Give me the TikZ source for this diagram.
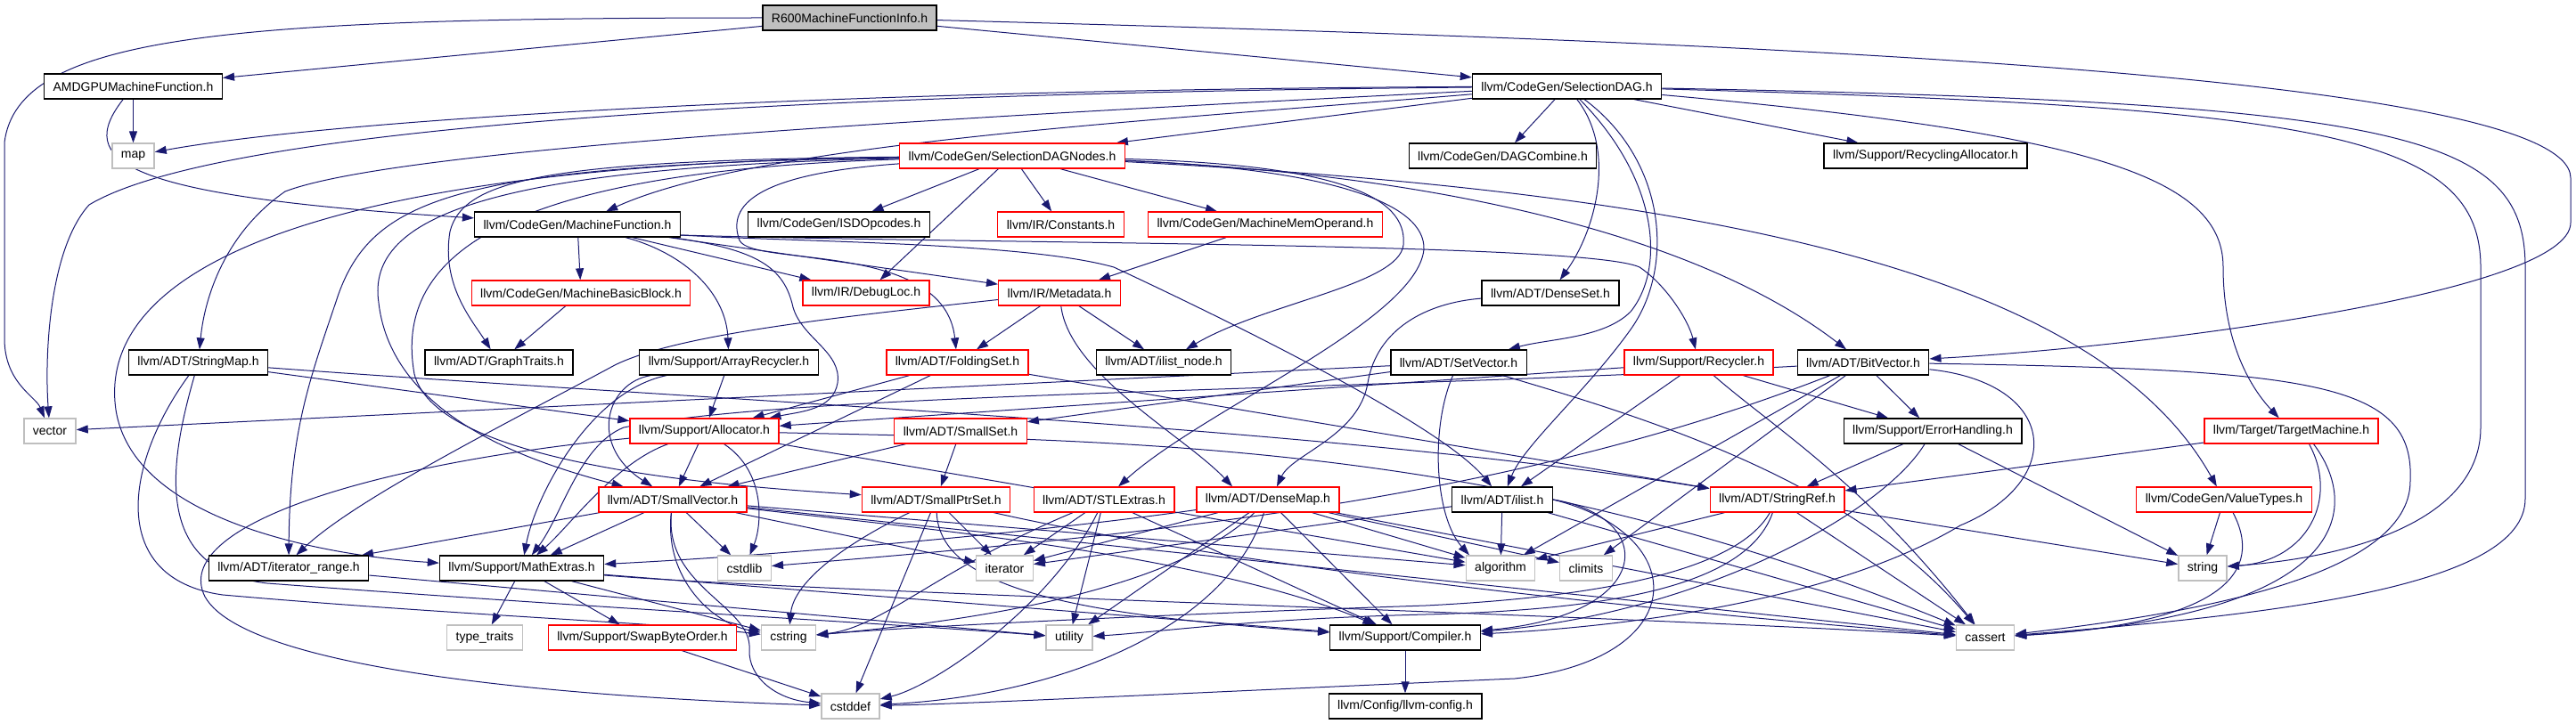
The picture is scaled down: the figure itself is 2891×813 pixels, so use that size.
\documentclass[tikz,border=0pt]{standalone}
\usepackage{fontspec}
\setmainfont{Liberation Sans}
\usetikzlibrary{arrows.meta, calc}
\definecolor{edgeblue}{HTML}{191970}
\definecolor{sysgray}{HTML}{BFBFBF}
\pgfdeclarelayer{edges}
\pgfsetlayers{edges,main}
\tikzset{
    hdr/.style={rectangle, draw=black, fill=white, line width=1.3pt, minimum height=28pt, inner xsep=10pt, inner ysep=0pt, font=\fontsize{14}{16}\selectfont},
    hdr_red/.style={hdr, draw=red},
    hdr_sys/.style={hdr, draw=sysgray},
    hdr_this/.style={hdr, fill=sysgray},
    dep/.style={-{Triangle[length=13pt, width=9pt]}, draw=edgeblue, line width=1pt}
}

\begin{document}
\begin{tikzpicture}[x=1pt, y=1pt]
\useasboundingbox (0,0) rectangle (2891,-813);

% Headers
\node (r600) [hdr_this] at (953.5,-20) {R600MachineFunctionInfo.h};
\node (amdgpu) [hdr] at (149.5,-97) {AMDGPUMachineFunction.h};
\node (seldag) [hdr] at (1758.5,-97) {llvm/CodeGen/SelectionDAG.h};
\node (map) [hdr_sys] at (149.5,-175) {map};
\node (sdnodes) [hdr_red] at (1136,-175) {llvm/CodeGen/SelectionDAGNodes.h};
\node (dagcomb) [hdr] at (1686.5,-175) {llvm/CodeGen/DAGCombine.h};
\node (recalloc) [hdr] at (2161,-175) {llvm/Support/RecyclingAllocator.h};
\node (mfunc) [hdr] at (648,-252) {llvm/CodeGen/MachineFunction.h};
\node (isdop) [hdr] at (941.5,-252) {llvm/CodeGen/ISDOpcodes.h};
\node (consts) [hdr_red] at (1190.5,-252) {llvm/IR/Constants.h};
\node (mmo) [hdr_red] at (1420,-252) {llvm/CodeGen/MachineMemOperand.h};
\node (mbb) [hdr_red] at (652,-329) {llvm/CodeGen/MachineBasicBlock.h};
\node (dloc) [hdr_red] at (972,-329) {llvm/IR/DebugLoc.h};
\node (meta) [hdr_red] at (1189,-329) {llvm/IR/Metadata.h};
\node (dset) [hdr] at (1740,-329) {llvm/ADT/DenseSet.h};
\node (smap) [hdr] at (222.5,-407) {llvm/ADT/StringMap.h};
\node (gtraits) [hdr] at (560,-407) {llvm/ADT/GraphTraits.h};
\node (arecyc) [hdr] at (818,-407) {llvm/Support/ArrayRecycler.h};
\node (fset) [hdr_red] at (1074.5,-407) {llvm/ADT/FoldingSet.h};
\node (inode) [hdr] at (1306,-407) {llvm/ADT/ilist\_node.h};
\node (setvec) [hdr] at (1637,-407) {llvm/ADT/SetVector.h};
\node (recyc) [hdr_red] at (1906.5,-407) {llvm/Support/Recycler.h};
\node (bitvec) [hdr] at (2091,-407) {llvm/ADT/BitVector.h};
\node (vector) [hdr_sys] at (56,-484) {vector};
\node (alloc) [hdr_red] at (790.5,-484) {llvm/Support/Allocator.h};
\node (sset) [hdr_red] at (1078,-484) {llvm/ADT/SmallSet.h};
\node (errh) [hdr] at (2169,-484) {llvm/Support/ErrorHandling.h};
\node (tmach) [hdr_red] at (2571.5,-484) {llvm/Target/TargetMachine.h};
\node (svec) [hdr_red] at (755,-561) {llvm/ADT/SmallVector.h};
\node (sptrset) [hdr_red] at (1050.5,-561) {llvm/ADT/SmallPtrSet.h};
\node (stlext) [hdr_red] at (1239,-561) {llvm/ADT/STLExtras.h};
\node (dmap) [hdr_red] at (1423,-561) {llvm/ADT/DenseMap.h};
\node (ilist) [hdr] at (1686,-561) {llvm/ADT/ilist.h};
\node (sref) [hdr_red] at (1994.5,-561) {llvm/ADT/StringRef.h};
\node (vtypes) [hdr_red] at (2496,-561) {llvm/CodeGen/ValueTypes.h};
\node (itrange) [hdr] at (324,-638) {llvm/ADT/iterator\_range.h};
\node (mathx) [hdr] at (585.5,-638) {llvm/Support/MathExtras.h};
\node (cstdlib) [hdr_sys] at (835.5,-638) {cstdlib};
\node (iterator) [hdr_sys] at (1127.5,-638) {iterator};
\node (algorithm) [hdr_sys] at (1684,-638) {algorithm};
\node (climits) [hdr_sys] at (1780,-638) {climits};
\node (string) [hdr_sys] at (2472,-638) {string};
\node (typetr) [hdr_sys] at (544,-716) {type\_traits};
\node (swapbo) [hdr_red] at (721,-716) {llvm/Support/SwapByteOrder.h};
\node (cstring) [hdr_sys] at (885,-716) {cstring};
\node (utility) [hdr_sys] at (1200,-716) {utility};
\node (compiler) [hdr] at (1577,-716) {llvm/Support/Compiler.h};
\node (cassert) [hdr_sys] at (2228,-716) {cassert};
\node (cstddef) [hdr_sys] at (954.5,-793) {cstddef};
\node (llvmcfg) [hdr] at (1577,-793) {llvm/Config/llvm-config.h};

\begin{pgfonlayer}{edges}
% R600MachineFunctionInfo.h
\draw [dep] (r600) -- (amdgpu);
\draw [dep] (r600) .. controls (250,-20) and (20,-40) .. (5,-160) -- (5,-380) .. controls (5,-430) and (40,-445) .. (vector);
\draw [dep] (r600) -- (seldag);
\draw [dep] (r600) .. controls (1900,-45) and (2885,-80) .. (2885,-200) -- (2885,-250) .. controls (2885,-330) and (2400,-390) .. (bitvec);

% AMDGPUMachineFunction.h
\draw [dep] (amdgpu) -- (map);
\draw [dep] (amdgpu) .. controls (85,-180) and (130,-220) .. (mfunc);

% SelectionDAG.h
\draw [dep] (seldag) .. controls (1000,-100) and (400,-130) .. (map);
\draw [dep] (seldag) .. controls (900,-105) and (250,-140) .. (100,-230) .. controls (55,-280) and (50,-400) .. (vector);
\draw [dep] (seldag) .. controls (1100,-130) and (450,-165) .. (320,-215) .. controls (255,-260) and (230,-330) .. (smap);
\draw [dep] (seldag) .. controls (1300,-135) and (850,-160) .. (mfunc);
\draw [dep] (seldag) -- (sdnodes);
\draw [dep] (seldag) -- (dagcomb);
\draw [dep] (seldag) -- (recalloc);
\draw [dep] (seldag) .. controls (1815,-170) and (1790,-260) .. (dset);
\draw [dep] (seldag) .. controls (1860,-200) and (1870,-300) .. (1830,-350) .. controls (1800,-380) and (1740,-380) .. (setvec);
\draw [dep] (seldag) .. controls (1870,-180) and (1880,-300) .. (1830,-370) .. controls (1780,-440) and (1710,-500) .. (ilist);
\draw [dep] (seldag) .. controls (2350,-150) and (2495,-200) .. (2495,-300) .. controls (2495,-390) and (2530,-440) .. (tmach);
\draw [dep] (seldag) .. controls (2600,-120) and (2784,-150) .. (2784,-300) -- (2784,-480) .. controls (2784,-580) and (2650,-625) .. (string);
\draw [dep] (seldag) .. controls (2700,-115) and (2834,-150) .. (2834,-300) -- (2834,-560) .. controls (2834,-660) and (2550,-690) .. (cassert);

% SelectionDAGNodes.h
\draw [dep] (sdnodes) -- (isdop);
\draw [dep] (sdnodes) -- (consts);
\draw [dep] (sdnodes) -- (mmo);
\draw [dep] (sdnodes) -- (dloc);
\draw [dep] (sdnodes) .. controls (850,-195) and (815,-230) .. (830,-270) .. controls (845,-300) and (1060,-270) .. (fset);
\draw [dep] (sdnodes) .. controls (1500,-185) and (1580,-220) .. (1575,-275) .. controls (1570,-320) and (1420,-340) .. (inode);
\draw [dep] (sdnodes) .. controls (1500,-190) and (1600,-230) .. (1598,-280) .. controls (1590,-360) and (1350,-460) .. (stlext);
\draw [dep] (sdnodes) .. controls (1600,-195) and (1900,-260) .. (bitvec);
\draw [dep] (sdnodes) .. controls (1900,-215) and (2350,-300) .. (vtypes);
\draw [dep] (sdnodes) .. controls (620,-180) and (520,-200) .. (505,-260) .. controls (495,-320) and (530,-360) .. (gtraits);
\draw [dep] (sdnodes) .. controls (520,-185) and (420,-220) .. (380,-330) .. controls (350,-420) and (325,-480) .. (itrange);
\draw [dep] (sdnodes) .. controls (560,-188) and (410,-240) .. (425,-340) .. controls (440,-470) and (600,-520) .. (svec);
\draw [dep] (sdnodes) .. controls (580,-192) and (440,-280) .. (465,-420) .. controls (490,-520) and (800,-545) .. (sptrset);
\draw [dep] (sdnodes) .. controls (300,-185) and (110,-320) .. (130,-460) .. controls (150,-590) and (380,-625) .. (mathx);

% MachineFunction.h
\draw [dep] (mfunc) -- (mbb);
\draw [dep] (mfunc) .. controls (770,-285) and (815,-330) .. (arecyc);
\draw [dep] (mfunc) .. controls (850,-280) and (880,-300) .. (890,-345) .. controls (900,-380) and (945,-395) .. (940,-430) .. controls (935,-460) and (900,-462) .. (alloc);
\draw [dep] (mfunc) -- (dloc);
\draw [dep] (mfunc) -- (meta);
\draw [dep] ($(mfunc.east)+(0,-12)$) .. controls (900,-272) and (1150,-272) .. (1250,-300) .. controls (1400,-370) and (1620,-480) .. (ilist);
\draw [dep] ($(mfunc.east)+(0,-12)$) .. controls (1100,-274) and (1780,-272) .. (1840,-300) .. controls (1870,-320) and (1895,-360) .. (recyc);

% MachineBasicBlock.h, Metadata.h, MachineMemOperand.h, DenseSet.h
\draw [dep] (mbb) -- (gtraits);
\draw [dep] (meta) -- (fset);
\draw [dep] (meta) -- (inode);
\draw [dep] (meta) .. controls (950,-355) and (760,-375) .. (690,-410) .. controls (560,-480) and (400,-560) .. (itrange.60);
\draw [dep] (meta) .. controls (1200,-420) and (1330,-490) .. ($(dmap.north)+(-40,0)$);
\draw [dep] (mmo) -- (meta);
\draw [dep] (dset) .. controls (1600,-340) and (1545,-370) .. (1535,-430) .. controls (1525,-490) and (1450,-510) .. ($(dmap.north)+(10,0)$);

% StringMap.h, ArrayRecycler.h, FoldingSet.h
\draw [dep] (smap) -- (alloc);
\draw [dep] (smap) .. controls (800,-450) and (1500,-480) .. (sref);
\draw [dep] (smap) .. controls (140,-520) and (120,-650) .. (250,-668) .. controls (500,-690) and (750,-700) .. (cstring);
\draw [dep] (smap) .. controls (190,-520) and (170,-640) .. (300,-655) .. controls (700,-685) and (1000,-700) .. (utility);
\draw [dep] (arecyc) -- (alloc);
\draw [dep] (arecyc) .. controls (680,-430) and (660,-500) .. (svec);
\draw [dep] (arecyc) .. controls (660,-440) and (600,-560) .. (mathx);
\draw [dep] (fset) -- (alloc);
\draw [dep] (fset) -- (svec);
\draw [dep] (fset) -- (sref);

% SetVector.h, Recycler.h, BitVector.h
\draw [dep] (setvec) -- (sset);
\draw [dep] (setvec) -- (vector);
\draw [dep] (setvec) .. controls (1605,-480) and (1610,-580) .. ($(algorithm.north)+(-35,0)$);
\draw [dep] (setvec) .. controls (1850,-470) and (2080,-540) .. (cassert);
\draw [dep] (recyc) -- (alloc);
\draw [dep] (recyc) -- (ilist);
\draw [dep] (recyc) -- (errh);
\draw [dep] (recyc) .. controls (1990,-480) and (2090,-540) .. (cassert);
\draw [dep] (bitvec) -- (errh);
\draw [dep] (bitvec) -- (climits);
\draw [dep] (bitvec) -- (algorithm);
\draw [dep] (bitvec) .. controls (2310,-430) and (2320,-540) .. (2200,-590) .. controls (2050,-680) and (1800,-705) .. (compiler);
\draw [dep] (bitvec) .. controls (1500,-440) and (900,-440) .. (700,-480) .. controls (650,-500) and (630,-580) .. (mathx);
\draw [dep] (bitvec) .. controls (1700,-560) and (1300,-600) .. (cstdlib);
\draw [dep] (bitvec) .. controls (2600,-415) and (2710,-430) .. (2705,-540) .. controls (2705,-650) and (2450,-690) .. (cassert);

% ErrorHandling.h, TargetMachine.h, ValueTypes.h
\draw [dep] (errh) -- (sref);
\draw [dep] (errh) .. controls (2110,-580) and (1900,-690) .. (compiler);
\draw [dep] (errh) -- (string);
\draw [dep] (tmach) -- (sref);
\draw [dep] ($(tmach.south)+(20,0)$) .. controls (2625,-560) and (2590,-630) .. (string);
\draw [dep] ($(tmach.south)+(25,0)$) .. controls (2650,-570) and (2640,-690) .. (cassert);
\draw [dep] (vtypes) -- (string);
\draw [dep] ($(vtypes.south)+(10,0)$) .. controls (2540,-640) and (2500,-700) .. (cassert);

% Allocator.h, SmallSet.h
\draw [dep] (alloc) -- (svec);
\draw [dep] (alloc) .. controls (690,-520) and (640,-590) .. (mathx);
\draw [dep] (alloc) .. controls (860,-530) and (855,-590) .. (cstdlib);
\draw [dep] (alloc) .. controls (420,-520) and (190,-590) .. (230,-670) .. controls (280,-760) and (700,-785) .. (cstddef);
\draw [dep] (alloc) -- (algorithm);
\draw [dep] (alloc) .. controls (1300,-495) and (1700,-500) .. (cassert);
\draw [dep] (sset) -- (sptrset);
\draw [dep] (sset) -- (svec);

% SmallVector.h
\draw [dep] (svec) -- (cstdlib);
\draw [dep] (svec) -- (iterator);
\draw [dep] (svec) -- (mathx);
\draw [dep] (svec) .. controls (745,-650) and (800,-700) .. (cstring);
\draw [dep] (svec) .. controls (745,-660) and (845,-680) .. (841,-730) .. controls (840,-760) and (870,-785) .. (cstddef);
\draw [dep] (svec) -- (itrange);
\draw [dep] (svec) -- (algorithm);
\draw [dep] (svec) -- (cassert);
\draw [dep] (svec) .. controls (1000,-590) and (1350,-620) .. (compiler);

% SmallPtrSet.h, STLExtras.h
\draw [dep] (sptrset) .. controls (930,-620) and (890,-660) .. (cstring);
\draw [dep] (sptrset) -- (cstddef);
\draw [dep] (sptrset) -- (iterator);
\draw [dep] (sptrset) .. controls (1055,-660) and (1200,-690) .. (compiler);
\draw [dep] (sptrset) .. controls (1400,-640) and (1900,-690) .. (cassert);
\draw [dep] (stlext) .. controls (1050,-640) and (990,-705) .. (cstring);
\draw [dep] (stlext) -- (iterator);
\draw [dep] (stlext) -- (utility);
\draw [dep] (stlext) -- (compiler);
\draw [dep] (stlext) .. controls (1180,-680) and (1050,-770) .. (cstddef);

% DenseMap.h
\draw [dep] (dmap) .. controls (1150,-600) and (850,-625) .. (mathx);
\draw [dep] (dmap) -- (algorithm);
\draw [dep] (dmap) -- (climits);
\draw [dep] (dmap) .. controls (1380,-700) and (1200,-780) .. (cstddef);
\draw [dep] (dmap) .. controls (1300,-680) and (1000,-705) .. (cstring);
\draw [dep] (dmap) -- (iterator);
\draw [dep] (dmap) -- (utility);
\draw [dep] (dmap) -- (compiler);
\draw [dep] (dmap) -- (cassert);

% ilist.h, StringRef.h
\draw [dep] (ilist) -- (algorithm);
\draw [dep] (ilist.east) .. controls (1860,-580) and (1860,-690) .. (compiler);
\draw [dep] (ilist) -- (cassert);
\draw [dep] (ilist) -- (iterator);
\draw [dep] (ilist.east) .. controls (1900,-600) and (1900,-740) .. (1700,-762) .. controls (1400,-775) and (1100,-790) .. (cstddef);
\draw [dep] (sref) -- (algorithm);
\draw [dep] (sref) -- (string);
\draw [dep] (sref) -- (cassert);
\draw [dep] (sref) .. controls (1950,-640) and (1800,-670) .. (1600,-680) .. controls (1300,-690) and (1000,-705) .. (cstring);
\draw [dep] (sref) .. controls (1960,-660) and (1800,-685) .. (1600,-690) .. controls (1400,-695) and (1300,-710) .. (utility);

% Compiler.h, MathExtras.h, SwapByteOrder.h, iterator_range.h
\draw [dep] (compiler) -- (llvmcfg);
\draw [dep] (mathx) -- (typetr);
\draw [dep] (mathx) -- (swapbo);
\draw [dep] (mathx) -- (cstring);
\draw [dep] (mathx) -- (compiler);
\draw [dep] (mathx) .. controls (900,-665) and (1800,-690) .. (cassert);
\draw [dep] (swapbo) -- (cstddef);
\draw [dep] (itrange) -- (utility);
\end{pgfonlayer}
\end{tikzpicture}
\end{document}
